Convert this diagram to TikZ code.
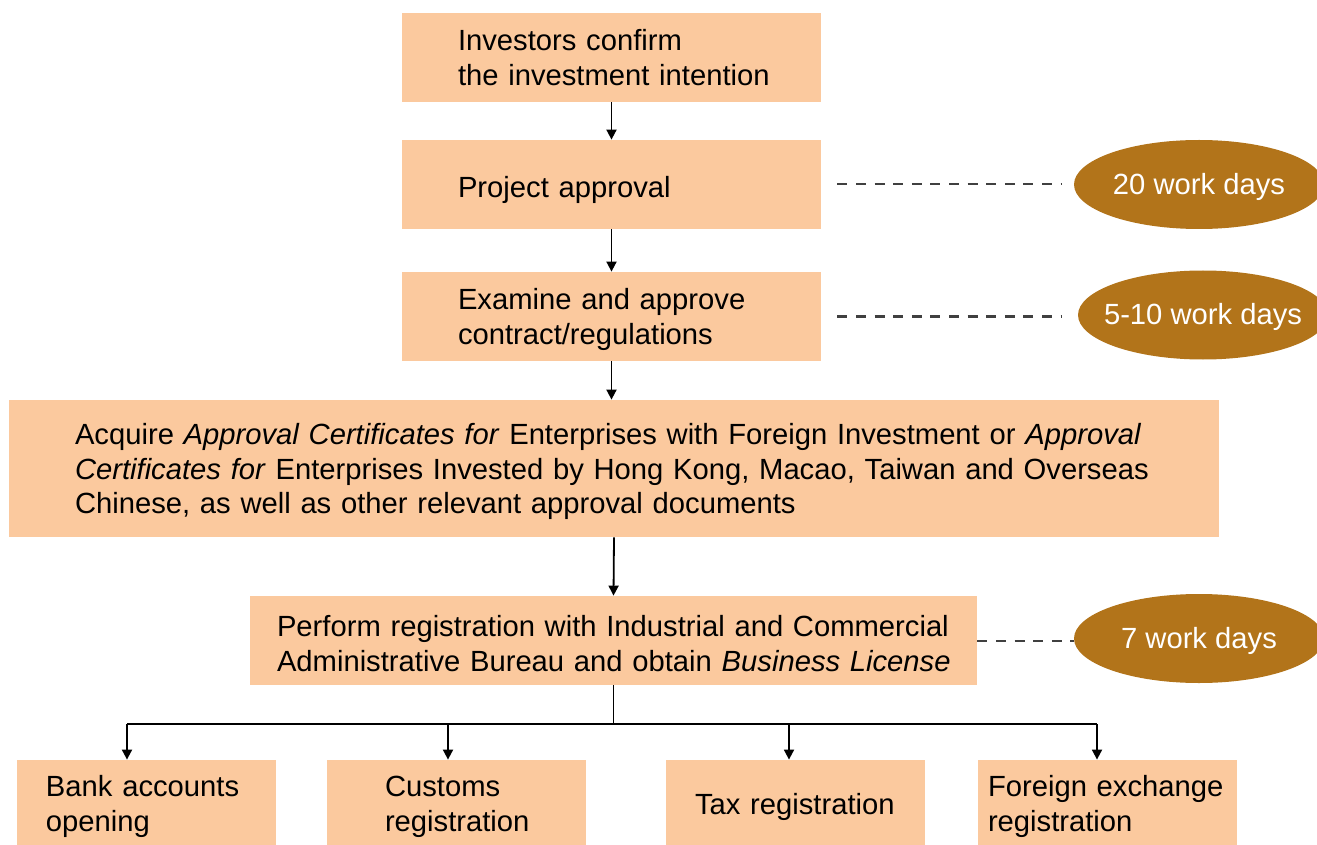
\documentclass[tikz,border=0pt]{standalone}
\usepackage{fontspec}
\setmainfont{Liberation Sans}
\usepackage{tikz}
\usetikzlibrary{shapes.geometric, arrows.meta}
\definecolor{Peach}{HTML}{FBC99E}
\definecolor{Ochre}{HTML}{B2741A}

\begin{document}
\begin{tikzpicture}[x=0.5pt, y=-0.5pt]
  \tikzstyle{stage}=[fill=Peach, text width=209.5pt, minimum height=44.5pt, inner sep=0pt,
  text height=13.6pt, align=left, font=\fontsize{14.6pt}{17.3pt}\selectfont]
  \tikzstyle{sub}=[text width=129.5pt, minimum height=42.5pt, text height=14.6pt]
  \tikzstyle{days}=[ellipse, fill=Ochre, text=white, minimum width=125pt, minimum height=44.5pt,
  inner sep=0pt, text height=13pt, font=\fontsize{14.6pt}{17.3pt}\selectfont]
  \tikzstyle{flow}=[draw, line width=0.9pt, -{Triangle[length=5pt, width=5pt]}]
  \tikzstyle{lapse}=[draw=black!75, line width=1pt, dash pattern=on 5pt off 4.3pt]
  \tikzset{inset/.style={execute at begin node={\leftskip=#1}}}

  \clip (0,0) rectangle (1317,845);

  \node (invest) at (611.5,57.5) [stage, inset=28pt, text height=10.8pt] {Investors confirm\\the investment intention};
  \node (project) at (611.5,184.5) [stage, inset=28pt, text height=16.4pt] {Project approval};
  \node (examine) at (611.5,316.5) [stage, inset=28pt] {Examine and approve\\contract/regulations};
  \node (acquire) at (614,468.5) [stage, text width=605pt, minimum height=68.5pt, inset=33pt]
  {Acquire \textit{Approval Certificates for} Enterprises with Foreign Investment or \textit{Approval}\\
  \textit{Certificates for} Enterprises Invested by Hong Kong, Macao, Taiwan and Overseas\\
  Chinese, as well as other relevant approval documents};
  \node (register) at (613.5,640.5) [stage, text width=363.5pt, inset=13.5pt]
  {Perform registration with Industrial and Commercial\\Administrative Bureau and obtain \textit{Business License}};

  \node (bank) at (146.5,802.5) [stage, sub, inset=14.5pt] {Bank accounts\\opening};
  \node (customs) at (456.5,802.5) [stage, sub, inset=29pt] {Customs\\registration};
  \node (tax) at (795.5,802.5) [stage, sub, inset=14.5pt] {Tax registration};
  \node (forex) at (1107.5,802.5) [stage, sub, inset=5pt] {Foreign exchange\\registration};

  \node (d20) at (1199,184.5) [days] {\makebox[0pt]{20 work days}};
  \node (d510) at (1203,315) [days] {\makebox[0pt]{5-10 work days}};
  \node (d7) at (1199,638.5) [days] {\makebox[0pt]{7 work days}};

  \draw[flow] (invest) -- (project);
  \draw[flow] (project) -- (examine);
  \draw[flow] (examine.south) -- (examine.south |- acquire.north);
  \draw[flow] (acquire.south) -- (register.north);

  \coordinate (split) at (613.5,724);
  \coordinate (bankin) at (127,724);
  \coordinate (customsin) at (448,724);
  \coordinate (taxin) at (789,724);
  \coordinate (forexin) at (1097,724);
  \draw[line width=0.9pt] (register.south) -- (split);
  \draw[line width=0.9pt] (bankin) -- (forexin);
  \draw[flow] (bankin) -- (bankin |- bank.north);
  \draw[flow] (customsin) -- (customsin |- customs.north);
  \draw[flow] (taxin) -- (taxin |- tax.north);
  \draw[flow] (forexin) -- (forexin |- forex.north);

  \draw[lapse, shorten <=8pt, shorten >=6pt] (project.east) -- (project.east -| d20.west);
  \draw[lapse, shorten <=8pt, shorten >=8pt] (examine.east) -- (examine.east -| d510.west);
  \draw[lapse] (register.east) -- (register.east -| d7.west);

\end{tikzpicture}
\end{document}
